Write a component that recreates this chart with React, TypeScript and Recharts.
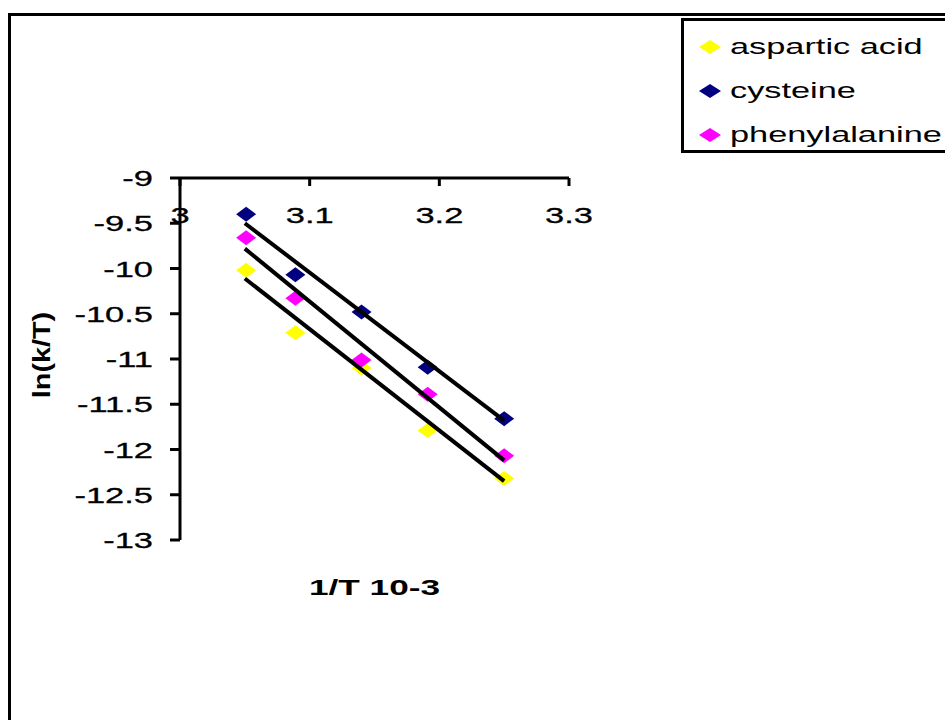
import React from 'react';
import { ScatterChart, Scatter, XAxis, YAxis, Label } from 'recharts';

// 1/T (x 10^-3)
const invTemp = [3.051, 3.089, 3.14, 3.191, 3.25];

const asparticAcid = [-10.02, -10.71, -11.1, -11.79, -12.32];
const cysteine = [-9.4, -10.07, -10.48, -11.09, -11.66];
const phenylalanine = [-9.66, -10.33, -11.01, -11.39, -12.07];

// trend line end points
const fitX = [3.05, 3.25];
const asparticFit = [-10.11, -12.35];
const cysteineFit = [-9.5, -11.68];
const phenylFit = [-9.78, -12.12];

const xTicks = [3, 3.1, 3.2, 3.3];
const yTicks = [-9, -9.5, -10, -10.5, -11, -11.5, -12, -12.5, -13];

const seriesNames = ['aspartic acid', 'cysteine', 'phenylalanine'];
const seriesColors = ['#FFFF00', '#000080', '#FF00FF'];

const FONT = '"Liberation Sans", Arial, sans-serif';
const STRETCH = 1.5;

const toPoints = (xs: number[], ys: number[]) => xs.map((x, i) => ({ x, y: ys[i] }));

const Diamond = (color: string) => (props: any) => {
    const { cx, cy } = props;
    if (cx == null || cy == null) return <g />;
    const w = 10;
    const h = 7.5;
    return <polygon points={`${cx},${cy - h} ${cx + w},${cy} ${cx},${cy + h} ${cx - w},${cy}`} fill={color} />;
};

const NoShape = () => <g />;

const XTick = (props: any) => {
    const { x, y, payload } = props;
    return (
        <text transform={`translate(${x},${y}) scale(${STRETCH},1)`} textAnchor="middle" dominantBaseline="central" fontFamily={FONT} fontSize={23} fill="#000" stroke="#000" strokeWidth={0.3}>
            {payload.value}
        </text>
    );
};

const YTick = (props: any) => {
    const { x, y, payload } = props;
    return (
        <text transform={`translate(${x},${y}) scale(${STRETCH},1)`} textAnchor="end" dominantBaseline="central" fontFamily={FONT} fontSize={23} fill="#000" stroke="#000" strokeWidth={0.3}>
            {payload.value}
        </text>
    );
};

const XTitle = (props: any) => {
    const vb = props.viewBox;
    const cx = vb.x + vb.width / 2;
    return (
        <text transform={`translate(${cx},${vb.y + 409}) scale(1.6,1)`} textAnchor="middle" dominantBaseline="central" fontFamily={FONT} fontWeight="bold" fontSize={22} fill="#000">
            1/T 10-3
        </text>
    );
};

const YTitle = (props: any) => {
    const vb = props.viewBox;
    const cy = vb.y + vb.height / 2 - 4;
    return (
        <text transform={`translate(42,${cy}) rotate(-90) scale(1.2,1)`} textAnchor="middle" dominantBaseline="central" fontFamily={FONT} fontWeight="bold" fontSize={24} fill="#000">
            ln(k/T)
        </text>
    );
};

export default function App() {
    const pointSeries = [asparticAcid, cysteine, phenylalanine];
    const fitSeries = [asparticFit, cysteineFit, phenylFit];

    return (
        <div style={{ position: 'absolute', left: 0, top: 0, width: 945, height: 720, overflow: 'hidden', background: '#fff' }}>
            <div style={{ position: 'absolute', left: 8, top: 13, width: 1000, height: 800, border: '3px solid #000', boxSizing: 'border-box' }} />
            <ScatterChart width={945} height={720} margin={{ top: 178, right: 376, bottom: 180, left: 100 }} style={{ position: 'absolute', left: 0, top: 0 }}>
                <XAxis
                    type="number"
                    dataKey="x"
                    orientation="top"
                    mirror
                    domain={[3, 3.3]}
                    ticks={xTicks}
                    tickSize={8}
                    tickMargin={29}
                    axisLine={{ stroke: '#000', strokeWidth: 3 }}
                    tickLine={{ stroke: '#000', strokeWidth: 3 }}
                    tick={<XTick />}
                    allowDataOverflow
                >
                    <Label content={<XTitle />} />
                </XAxis>
                <YAxis
                    type="number"
                    dataKey="y"
                    domain={[-13, -9]}
                    ticks={yTicks}
                    width={80}
                    tickSize={10}
                    tickMargin={17}
                    axisLine={{ stroke: '#000', strokeWidth: 3 }}
                    tickLine={{ stroke: '#000', strokeWidth: 3 }}
                    tick={<YTick />}
                    allowDataOverflow
                >
                    <Label content={<YTitle />} />
                </YAxis>
                {pointSeries.map((ys, i) => (
                    <Scatter
                        key={seriesNames[i]}
                        name={seriesNames[i]}
                        data={toPoints(invTemp, ys)}
                        fill={seriesColors[i]}
                        shape={Diamond(seriesColors[i])}
                        isAnimationActive={false}
                    />
                ))}
                {fitSeries.map((ys, i) => (
                    <Scatter
                        key={seriesNames[i] + '-fit'}
                        name={seriesNames[i] + ' trend'}
                        data={toPoints(fitX, ys)}
                        line={{ stroke: '#000', strokeWidth: 4 }}
                        shape={NoShape}
                        legendType="none"
                        isAnimationActive={false}
                    />
                ))}
            </ScatterChart>
            <div style={{ position: 'absolute', left: 681, top: 18, width: 300, height: 135, border: '3px solid #000', boxSizing: 'border-box', background: '#fff' }}>
                {seriesNames.map((name, i) => (
                    <div key={name} style={{ position: 'absolute', left: 0, top: 8 + i * 44, height: 36, display: 'flex', alignItems: 'center' }}>
                        <svg width={24} height={16} style={{ marginLeft: 14 }}>
                            <polygon points="12,1 23,8 12,15 1,8" fill={seriesColors[i]} />
                        </svg>
                        <span style={{ marginLeft: 8, fontFamily: FONT, fontSize: 22, color: '#000', display: 'inline-block', transform: 'scaleX(1.56)', transformOrigin: 'left center', whiteSpace: 'nowrap' }}>
                            {name}
                        </span>
                    </div>
                ))}
            </div>
        </div>
    );
}
